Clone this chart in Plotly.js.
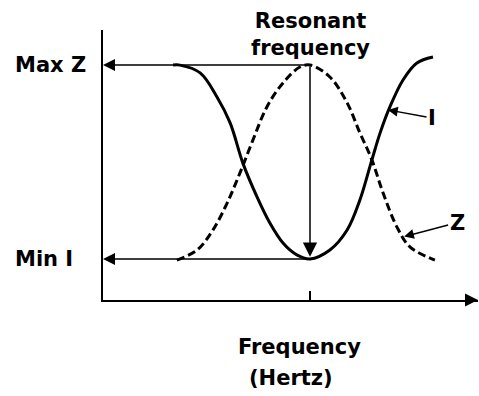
<!DOCTYPE html>
<html>
<head>
<meta charset="utf-8">
<script src="https://cdn.plot.ly/plotly-3.0.1.min.js"></script>
<style>html,body{margin:0;padding:0;background:#fff;}#chart{width:479px;height:396px;}</style>
</head>
<body>
<div id="chart"></div>
<script>
// Current I (solid) — frequency / value pairs
const freqI = [18.7, 20.5, 25.9, 30.4, 33.9, 37.3, 41.1, 44.5, 48.0, 51.7, 55.2, 60.5, 65.1, 68.5, 71.7, 73.9, 76.5, 80.0, 83.7, 88.0];
const currentI = [87.0, 87.0, 84.1, 75.2, 65.6, 50.7, 38.1, 28.5, 21.1, 16.7, 15.2, 18.5, 25.9, 37.0, 51.9, 61.9, 71.5, 81.5, 87.8, 90.0];
// Impedance Z (dashed)
const freqZ = [19.7, 25.1, 29.3, 33.1, 36.5, 40.0, 43.7, 48.0, 52.5, 55.2, 60.5, 65.1, 68.5, 71.7, 74.7, 78.4, 81.9, 88.5];
const impedanceZ = [14.8, 18.5, 25.9, 35.9, 47.0, 59.3, 71.5, 80.4, 86.3, 87.0, 82.6, 73.0, 61.9, 51.9, 39.6, 27.0, 19.6, 14.8];
// Key levels
const resonantFreq = 55.2;
const maxZ = 87.0;
const minI = 15.2;
const labelIPoint = [76.0, 70.4];
const labelZPoint = [80.3, 23.5];

const font = "DejaVu Sans, sans-serif";
const txt = (size) => ({family: font, size: size, color: '#000', weight: 'bold'});

const traces = [
  {x: freqI, y: currentI, mode: 'lines', line: {color: '#000', width: 3, shape: 'spline', smoothing: 1}, hoverinfo: 'skip'},
  {x: freqZ, y: impedanceZ, mode: 'lines', line: {color: '#000', width: 3, shape: 'spline', smoothing: 1, dash: '8px,4px'}, hoverinfo: 'skip'}
];

const arrowBase = {showarrow: true, arrowcolor: '#000', text: '', xref: 'x', yref: 'y', axref: 'x', ayref: 'y'};

const layout = {
  width: 479, height: 396,
  margin: {l: 103, r: 1, t: 30, b: 96},
  paper_bgcolor: '#fff', plot_bgcolor: '#fff',
  showlegend: false,
  xaxis: {range: [0, 100], showgrid: false, zeroline: false, showline: true, linecolor: '#000', linewidth: 2,
          tickvals: [resonantFreq], ticks: 'inside', ticklen: 9, tickwidth: 1.5, tickcolor: '#000', showticklabels: false, fixedrange: true},
  yaxis: {range: [0, 100], showgrid: false, zeroline: false, showline: true, linecolor: '#000', linewidth: 2,
          ticks: '', showticklabels: false, fixedrange: true},
  annotations: [
    Object.assign({}, arrowBase, {x: 0, y: maxZ, ax: resonantFreq, ay: maxZ, arrowhead: 2, arrowsize: 1.6, arrowwidth: 1.5}),
    Object.assign({}, arrowBase, {x: 0, y: minI, ax: resonantFreq, ay: minI, arrowhead: 2, arrowsize: 1.6, arrowwidth: 1.5}),
    Object.assign({}, arrowBase, {x: resonantFreq, y: minI + 0.8, ax: resonantFreq, ay: maxZ, arrowhead: 2, arrowsize: 1.9, arrowwidth: 1.5}),
    {x: 100, y: 0, xref: 'x', yref: 'y', ax: -12, ay: 0, text: '', showarrow: true, arrowhead: 2, arrowsize: 1.3, arrowwidth: 2, arrowcolor: '#000'},
    {x: labelIPoint[0], y: labelIPoint[1], xref: 'x', yref: 'y', ax: 44, ay: 8, text: 'I', showarrow: true,
     arrowhead: 2, arrowsize: 1.3, arrowwidth: 1.5, arrowcolor: '#000', font: txt(21)},
    {x: labelZPoint[0], y: labelZPoint[1], xref: 'x', yref: 'y', ax: 53, ay: -14, text: 'Z', showarrow: true,
     arrowhead: 2, arrowsize: 1.3, arrowwidth: 1.5, arrowcolor: '#000', font: txt(21)},
    {x: -0.141, y: maxZ, xref: 'paper', yref: 'y', text: 'Max Z', showarrow: false, xanchor: 'center', yanchor: 'middle', font: txt(21)},
    {x: -0.157, y: minI, xref: 'paper', yref: 'y', text: 'Min I', showarrow: false, xanchor: 'center', yanchor: 'middle', font: txt(21)},
    {x: resonantFreq, y: 0.983, xref: 'x', yref: 'paper', text: 'Resonant<br>frequency', showarrow: false,
     xanchor: 'center', yanchor: 'middle', align: 'center', font: txt(21)},
    {x: 0.525, y: -0.174, xref: 'paper', yref: 'paper', text: 'Frequency', showarrow: false, xanchor: 'center', yanchor: 'middle', font: txt(21)},
    {x: 0.501, y: -0.289, xref: 'paper', yref: 'paper', text: '(Hertz)', showarrow: false, xanchor: 'center', yanchor: 'middle', font: txt(21)}
  ]
};

Plotly.newPlot('chart', traces, layout, {staticPlot: true, displayModeBar: false});
</script>
</body>
</html>
